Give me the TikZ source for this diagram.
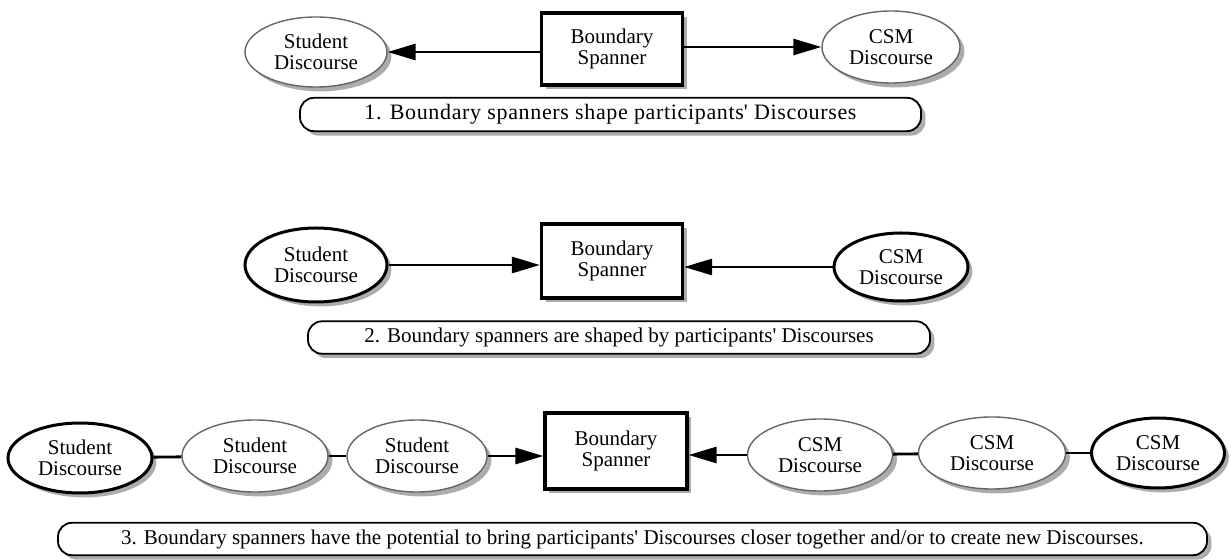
\documentclass[tikz,border=0pt]{standalone}
\usepackage{fontspec}
\setmainfont{Liberation Serif}
\usetikzlibrary{arrows.meta,shadows,shapes.geometric}

\begin{document}
\begin{tikzpicture}[
    x=0.5pt, y=-0.5pt,
    >={Triangle[length=14pt,width=8pt]},
    every node/.style={font=\fontsize{10.5}{10.5}\selectfont, align=center},
    dropped/.style={drop shadow={shadow xshift=2.2pt, shadow yshift=-2.2pt, fill=gray!65, opacity=1}},
    oval/.style={ellipse, dropped, fill=white, minimum width=71pt, minimum height=35pt, inner sep=0pt},
    thinoval/.style={oval, draw=black!60, line width=0.7pt}, % grey outline
    thickoval/.style={oval, draw=black, line width=1.5pt}, % heavy outline
    spanner/.style={rectangle, draw, dropped, fill=white, line width=1.6pt, minimum width=70.5pt, minimum height=36pt},
    caption/.style={rectangle, rounded corners=7pt, draw, dropped, fill=white, line width=0.9pt, minimum height=12pt},
    link/.style={line width=1.4pt}
]
    \useasboundingbox (0,0) rectangle (1231,560);

    % Row 1: spanner shapes the Discourses
    \node[thinoval] (stu1) at (316,52) {Student\\Discourse};
    \node[spanner] (bs1) at (612,49) {Boundary\\Spanner};
    \node[thinoval, minimum width=69pt, minimum height=36pt] (csm1) at (891,47) {CSM\\Discourse};
    \node[caption, minimum width=310.5pt, minimum height=11.5pt,
          font=\fontsize{11}{11}\selectfont\addfontfeature{LetterSpace=3}] (cap1) at (610.5,114.5)
        {1. Boundary spanners shape participants\textquotesingle{} Discourses};
    \draw[link,->] (bs1.west |- stu1) -- (stu1);
    \draw[link,->] (bs1.east |- csm1) -- (csm1);

    % Row 2: spanner is shaped by the Discourses
    \node[thickoval, minimum height=37pt] (stu2) at (316,265) {Student\\Discourse};
    \node[spanner, minimum height=37pt] (bs2) at (612,261) {Boundary\\Spanner};
    \node[thickoval, minimum width=67pt, minimum height=34pt] (csm2) at (901,267) {CSM\\Discourse};
    \node[caption, minimum width=311pt, minimum height=12.5pt] (cap2) at (619,337.5)
        {2. Boundary spanners are shaped by participants\textquotesingle{} Discourses};
    \draw[link,->] (stu2) -- (bs2.west |- stu2);
    \draw[link,->] (csm2) -- (bs2.east |- csm2);

    % Row 3: chains of Discourses on both sides
    \node[thickoval, minimum width=72pt] (s31) at (80,458) {Student\\Discourse};
    \node[thinoval, minimum width=73pt, minimum height=36pt] (s32) at (255,456) {Student\\Discourse};
    \node[thinoval, minimum width=70pt, minimum height=36pt] (s33) at (417,456) {Student\\Discourse};
    \node[spanner, minimum width=71pt, minimum height=38pt] (bs3) at (616,451) {Boundary\\Spanner};
    \node[thinoval, minimum width=72.5pt, minimum height=36pt] (c31) at (820,455) {CSM\\Discourse};
    \node[thinoval, minimum width=73.5pt, minimum height=36pt] (c32) at (992,453) {CSM\\Discourse};
    \node[thickoval, minimum width=66.5pt] (c33) at (1158,453) {CSM\\Discourse};
    \node[caption, minimum width=574.5pt, minimum height=16pt] (cap3) at (632.5,539)
        {3. Boundary spanners have the potential to bring participants\textquotesingle{} Discourses closer together and/or to create new Discourses.};
    \draw[link] (s31) -- (s32);
    \draw[link] (s32) -- (s33);
    \draw[link,->] (s33) -- (bs3.west |- s33);
    \draw[link,->] (c31) -- (bs3.east |- c31);
    \draw[link] (c31) -- (c32);
    \draw[link] (c32) -- (c33);

\end{tikzpicture}
\end{document}
